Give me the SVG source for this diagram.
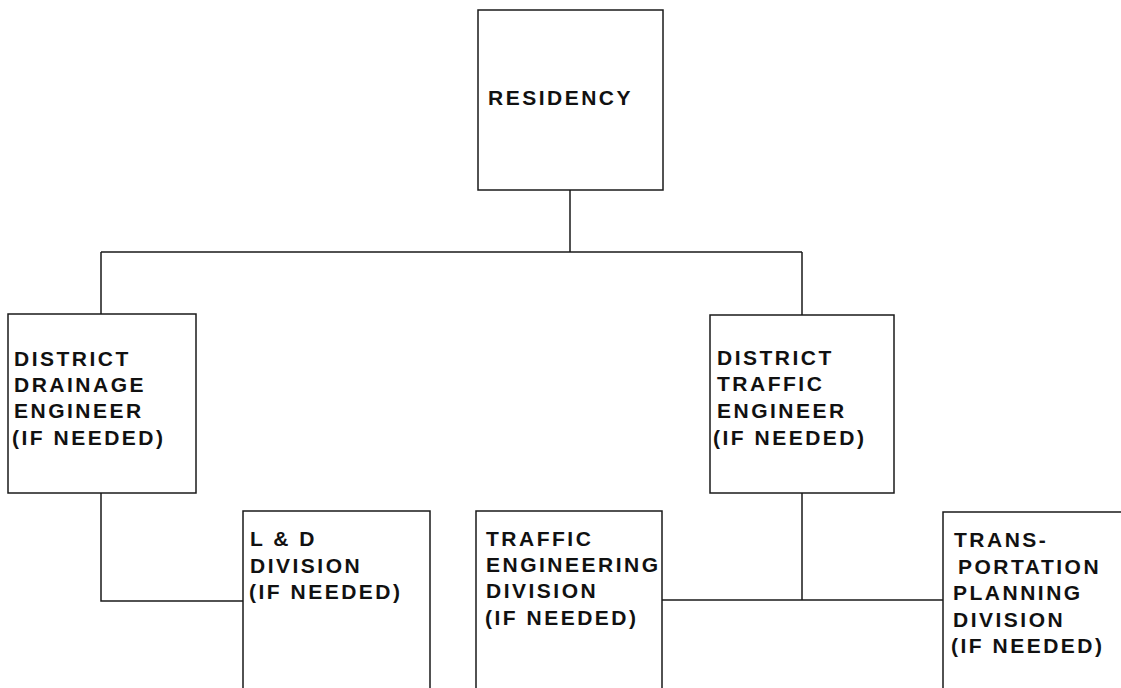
<svg xmlns="http://www.w3.org/2000/svg" width="1121" height="688" viewBox="0 0 1121 688">
<style>
.box{fill:#fff;stroke:#1a1a1a;stroke-width:1.5}
.ln{fill:none;stroke:#1a1a1a;stroke-width:1.5}
text{font-family:"Liberation Sans",Arial,sans-serif;font-weight:bold;font-size:21px;letter-spacing:2.5px;fill:#111}
</style>
<rect width="1121" height="688" fill="#fff"/>
<g id="connectors">
<path class="ln" d="M570,190 V252 M101,252 H802 M101,252 V314 M802,252 V315"/>
<path class="ln" d="M101,493 V601 H243"/>
<path class="ln" d="M802,493 V600 M662,600 H943"/>
</g>
<g id="residency">
<rect class="box" x="478" y="10" width="185" height="180"/>
<text x="488" y="105">RESIDENCY</text>
</g>
<g id="district-drainage">
<rect class="box" x="8" y="314" width="188" height="179"/>
<text x="14" y="366">DISTRICT</text>
<text x="14" y="392">DRAINAGE</text>
<text x="14" y="418">ENGINEER</text>
<text x="12" y="445">(IF NEEDED)</text>
</g>
<g id="district-traffic">
<rect class="box" x="710" y="315" width="184" height="178"/>
<text x="717" y="365">DISTRICT</text>
<text x="717" y="391">TRAFFIC</text>
<text x="717" y="418">ENGINEER</text>
<text x="713" y="445">(IF NEEDED)</text>
</g>
<g id="ld-division">
<path class="box" d="M243,688 V511 H430 V688"/>
<text x="250" y="546">L &amp; D</text>
<text x="250" y="573">DIVISION</text>
<text x="249" y="599">(IF NEEDED)</text>
</g>
<g id="traffic-engineering-division">
<path class="box" d="M476,688 V511 H662 V688"/>
<text x="486" y="546">TRAFFIC</text>
<text x="486" y="572">ENGINEERING</text>
<text x="486" y="598">DIVISION</text>
<text x="485" y="625">(IF NEEDED)</text>
</g>
<g id="transportation-planning-division">
<path class="box" d="M943,688 V512 H1121"/>
<text x="954" y="547">TRANS-</text>
<text x="958" y="574">PORTATION</text>
<text x="953" y="600">PLANNING</text>
<text x="953" y="627">DIVISION</text>
<text x="951" y="653">(IF NEEDED)</text>
</g>
</svg>
